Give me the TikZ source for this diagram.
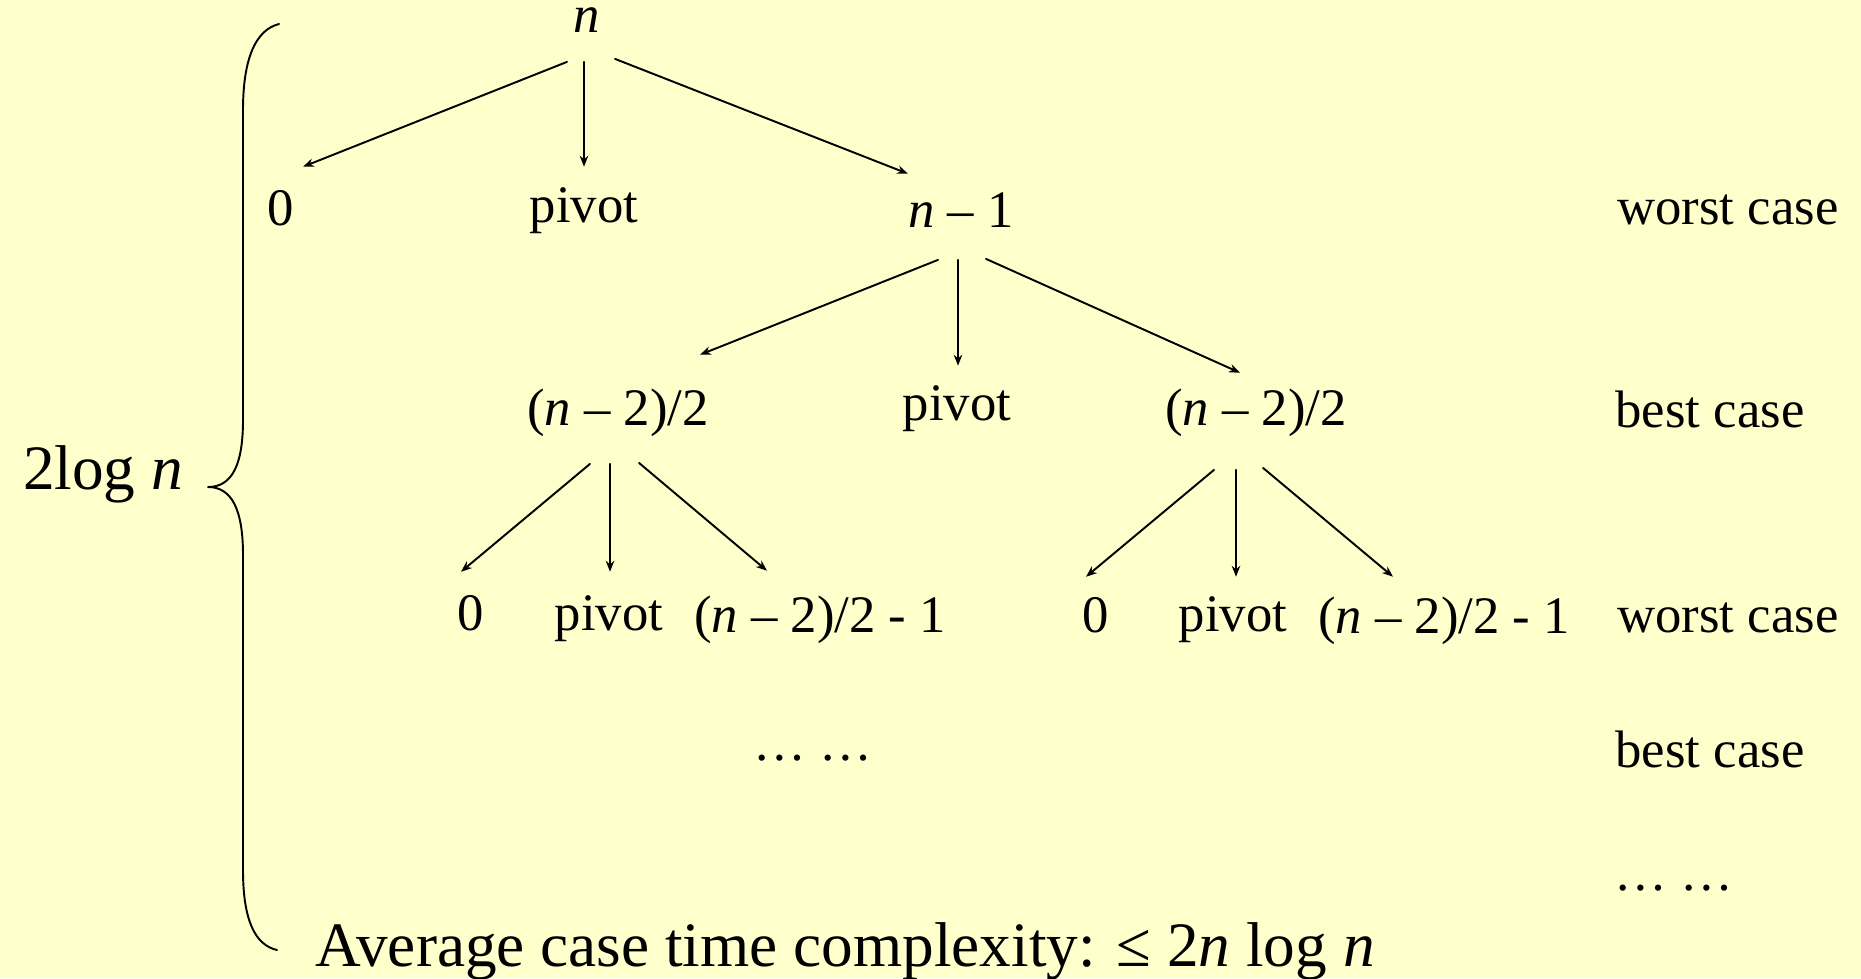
\documentclass[tikz,border=0pt]{standalone}
\usepackage{fontspec}
\setmainfont{Liberation Serif}
\usetikzlibrary{arrows.meta, calc}
\definecolor{qs-paper}{HTML}{FFFFCC}
\definecolor{qs-ink}{HTML}{000000}

\begin{document}
\begin{tikzpicture}[>={Stealth[length=0.22cm, width=0.17cm]}, x=0.02cm, y=-0.02cm,
    line cap=round, line join=round,
    lbl/.style={anchor=base, inner sep=0pt, text height=21pt, text depth=6pt,
      font=\fontsize{30}{36}\selectfont, text=qs-ink},
    big/.style={anchor=base, inner sep=0pt, font=\fontsize{36}{43}\selectfont, text=qs-ink},
    edge/.style={->, qs-ink, line width=1.1pt}]
  % baggrund
  \fill[qs-paper] (0,0) rectangle (1861,978);
  \useasboundingbox (0,0) rectangle (1861,978);
  % rod
  \node[lbl, text height=14pt] (n) at (587,32) {\textit{n}};
  % første niveau
  \node[lbl] (zero1) at (281,225) {0};
  \node[lbl] (piv1) at (584,222) {pivot};
  \node[lbl] (nm1) at (961,227) {\textit{n} – 1};
  % andet niveau
  \node[lbl] (hl) at (618,425) {(\textit{n} – 2)/2};
  \node[lbl] (piv2) at (957,420) {pivot};
  \node[lbl] (hr) at (1256,425) {(\textit{n} – 2)/2};
  % tredje niveau
  \node[lbl] (zero2) at (471,630) {0};
  \node[lbl] (piv3) at (609,630) {pivot};
  \node[lbl] (rl) at (820,632) {(\textit{n} – 2)/2 - 1};
  \node[lbl] (zero3) at (1096,632) {0};
  \node[lbl] (piv4) at (1233,631) {pivot};
  \node[lbl] (rr) at (1444,633) {(\textit{n} – 2)/2 - 1};
  \node[lbl] (dots1) at (813,760) {… …};
  % pile
  \foreach \from/\to/\s/\t in {n/zero1/{-20,19}/{22,-21}, n/piv1/{-3,19}/{0,-18},
      n/nm1/{28,16}/{-53,-16}, nm1/hl/{-23,22}/{82,-33}, nm1/piv2/{-3,22}/{1,-17},
      nm1/hr/{25,21}/{-16,-15}, hl/zero2/{-28,28}/{-10,-21}, hl/piv3/{-8,28}/{1,-21},
      hl/rl/{21,27}/{-53,-24}, hr/zero3/{-42,34}/{-10,-18}, hr/piv4/{-20,34}/{3,-17},
      hr/rr/{7,32}/{-51,-19}}{
    \draw[edge] ($(\from.south)+(\s)$) -- ($(\to.north)+(\t)$);
  }
  % højre kolonne
  \node[lbl] (worst1) at (1728,224) {worst case};
  \node[lbl] (best1) at (1710,427) {best case};
  \node[lbl] (worst2) at (1728,632) {worst case};
  \node[lbl] (best2) at (1710,767) {best case};
  \node[lbl] (dots2) at (1674,890) {… …};
  % klamme og dybde
  \draw[qs-ink, line width=1.1pt] (279,24) .. controls (255,30) and (243,60) .. (243,110)
    -- (243,420) .. controls (243,465) and (232,487) .. (208,487)
    .. controls (232,487) and (243,510) .. (243,555)
    -- (243,870) .. controls (243,920) and (255,945) .. (277,950);
  \node[big] (depth) at (103,489) {2log \textit{n}};
  \node[big] (avg) at (845,966) {Average case time complexity: ≤ 2\textit{n} log \textit{n}};
\end{tikzpicture}
\end{document}
